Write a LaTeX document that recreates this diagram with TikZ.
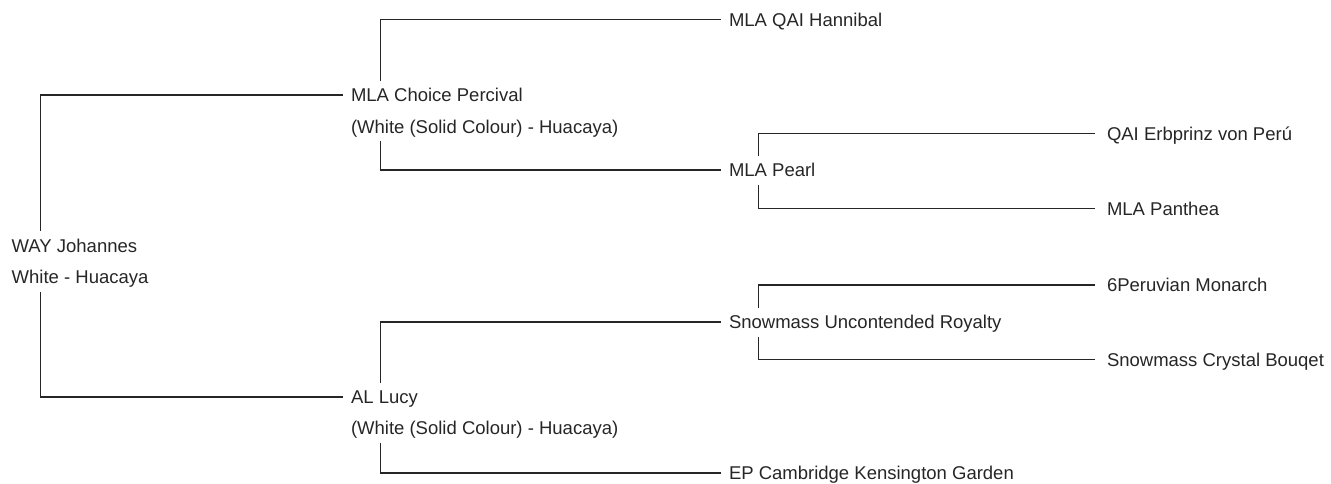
\documentclass[tikz,border=0pt]{standalone}
\usepackage{fontspec}
\setmainfont{Liberation Sans}
\begin{document}
\begin{tikzpicture}[x=1pt,y=-1pt,line width=1.5pt,black!85,
  nodes={anchor=west,inner sep=0pt,outer sep=0pt,text height=21.2pt,text depth=7.8pt,font=\fontsize{18.5}{22}\selectfont},
  link/.style={shorten >=8pt},far/.style={shorten >=12pt}]
\useasboundingbox (0,0) rectangle (1331,483);

\node (way) at (11.7,245.7) {WAY Johannes};
\node (waycol) at (11.7,277) {White - Huacaya};

\node (perc) at (351,95) {MLA Choice Percival};
\node (perccol) at (351,126.5) {(White (Solid Colour) - Huacaya)};
\node (lucy) at (351,397) {AL Lucy};
\node (lucycol) at (351,428) {(White (Solid Colour) - Huacaya)};

\node (hann) at (729,19.3) {MLA QAI Hannibal};
\node (pearl) at (729,170) {MLA Pearl};
\node (snow) at (729,322) {Snowmass Uncontended Royalty};
\node (camb) at (729,473) {EP Cambridge Kensington Garden};

\node (erb) at (1107,133.3) {QAI Erbprinz von Perú};
\node (panth) at (1107,208.3) {MLA Panthea};
\node (peru) at (1107,285) {6Peruvian Monarch};
\node (crys) at (1107,359.5) {Snowmass Crystal Bouqet};

\draw[link] ([xshift=29pt]way.north west) |- (perc.west);
\draw[link] ([xshift=29pt]waycol.south west) |- (lucy.west);
\draw[link] ([xshift=29.5pt]perc.north west) |- (hann.west);
\draw[link] ([xshift=29.5pt]perccol.south west) |- (pearl.west);
\draw[link] ([xshift=29.5pt]lucy.north west) |- (snow.west);
\draw[link] ([xshift=29.5pt]lucycol.south west) |- (camb.west);
\draw[far] ([xshift=29.5pt]pearl.north west) |- (erb.west);
\draw[far] ([xshift=29.5pt]pearl.south west) |- (panth.west);
\draw[far] ([xshift=29.5pt]snow.north west) |- (peru.west);
\draw[far] ([xshift=29.5pt]snow.south west) |- (crys.west);
\end{tikzpicture}
\end{document}
